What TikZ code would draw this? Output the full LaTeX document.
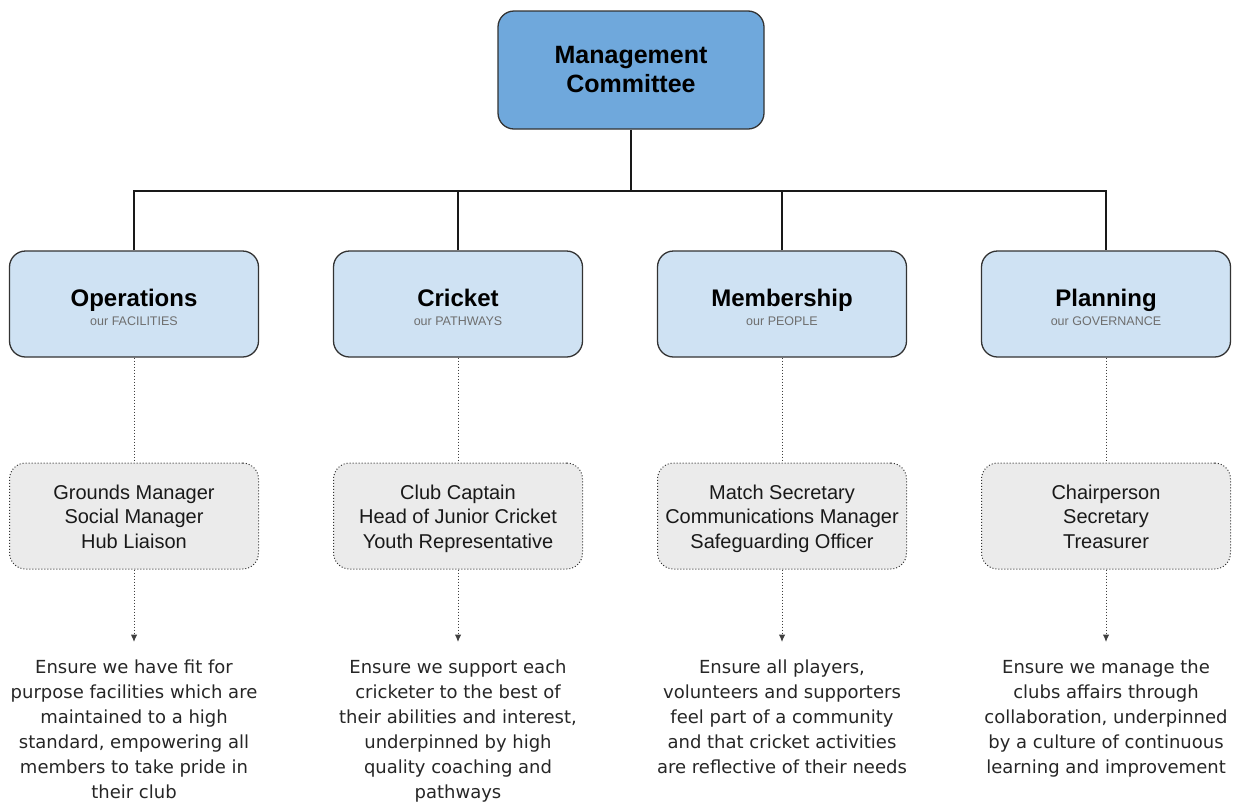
\documentclass[tikz,border=0pt]{standalone}
\usepackage{fontspec}
\setmainfont{Liberation Sans}
\newfontfamily\descfont{DejaVu Sans}
\usetikzlibrary{arrows.meta}
\definecolor{topblue}{HTML}{6FA8DC}
\definecolor{lightblue}{HTML}{CFE2F3}
\definecolor{boxgrey}{HTML}{EBEBEB}
\definecolor{edgegrey}{HTML}{333333}
\definecolor{subgrey}{HTML}{6E6E6E}
\tikzset{
  topbox/.style={draw=edgegrey, line width=1.3pt, fill=topblue, rounded corners=16pt,
    minimum width=266pt, minimum height=118pt, inner sep=0pt},
  toptext/.style={anchor=north, inner sep=0pt, align=center,
    font=\fontsize{25}{29}\selectfont\bfseries},
  areabox/.style={draw=edgegrey, line width=1.3pt, fill=lightblue, rounded corners=16pt,
    minimum width=249pt, minimum height=106pt, inner sep=0pt},
  areatitle/.style={anchor=base, inner sep=0pt, font=\fontsize{24}{28}\selectfont\bfseries},
  areasub/.style={anchor=base, inner sep=0pt, text=subgrey, font=\fontsize{12.5}{14}\selectfont},
  rolebox/.style={draw=edgegrey, dotted, line width=1pt, fill=boxgrey, rounded corners=16pt,
    minimum width=249pt, minimum height=106pt, inner sep=0pt},
  roletext/.style={anchor=north, inner sep=0pt, align=center,
    text=black!90, font=\fontsize{20}{24.5}\selectfont},
  desctext/.style={anchor=north, inner sep=0pt, align=center, text=black!85,
    font=\descfont\fontsize{18}{25.1}\selectfont},
  tree/.style={draw=black!90, line width=1.1pt},
  dotlink/.style={draw=black!75, dotted, line width=1pt},
  dotarrow/.style={draw=black!75, dotted, line width=1pt, -{Latex[length=7.5pt,width=6.5pt]}},
}
\begin{document}
\begin{tikzpicture}[x=1pt,y=-1pt]
\useasboundingbox (0,0) rectangle (1233,801);

\node[topbox] (mc) at (631,70) {};
\node[toptext] (mc-t) at (631,43) {\strut Management\\Committee\strut};

\coordinate (bus) at (631,191);

\foreach \name/\cx/\ttl/\sub in {ops/134/Operations/our FACILITIES,
                                 cri/458/Cricket/our PATHWAYS,
                                 mem/782/Membership/our PEOPLE,
                                 pla/1106/Planning/our GOVERNANCE}{
  \node[areabox] (\name) at (\cx,304) {};
  \node[areatitle] (\name-t) at (\cx,306) {\ttl};
  \node[areasub] (\name-s) at (\cx,325) {\sub};
  \node[rolebox] (\name-r) at (\cx,516) {};
  \coordinate (\name-a) at (\cx,642);
}

\node[roletext] (ops-rt) at (134,482) {\strut Grounds Manager\\Social Manager\\Hub Liaison};
\node[roletext] (cri-rt) at (458,482) {\strut Club Captain\\Head of Junior Cricket\\Youth Representative};
\node[roletext] (mem-rt) at (782,482) {\strut Match Secretary\\Communications Manager\\Safeguarding Officer};
\node[roletext] (pla-rt) at (1106,482) {\strut Chairperson\\Secretary\\Treasurer};

\node[desctext] (ops-d) at (134,659.5) {Ensure we have fit for\\purpose facilities which are\\maintained to a high\\standard, empowering all\\members to take pride in\\their club};
\node[desctext] (cri-d) at (458,659.5) {Ensure we support each\\cricketer to the best of\\their abilities and interest,\\underpinned by high\\quality coaching and\\pathways};
\node[desctext] (mem-d) at (782,659.5) {Ensure all players,\\volunteers and supporters\\feel part of a community\\and that cricket activities\\are reflective of their needs};
\node[desctext] (pla-d) at (1106,659.5) {Ensure we manage the\\clubs affairs through\\collaboration, underpinned\\by a culture of continuous\\learning and improvement};

\draw[tree] (mc.south) -- (bus);
\draw[tree] (ops.north) |- (bus) -| (pla.north);
\draw[tree] (cri.north) -- (cri.north |- bus);
\draw[tree] (mem.north) -- (mem.north |- bus);

\foreach \name in {ops,cri,mem,pla}{
  \draw[dotlink] (\name.south) -- (\name-r.north);
  \draw[dotarrow] (\name-r.south) -- (\name-a);
}
\end{tikzpicture}
\end{document}
